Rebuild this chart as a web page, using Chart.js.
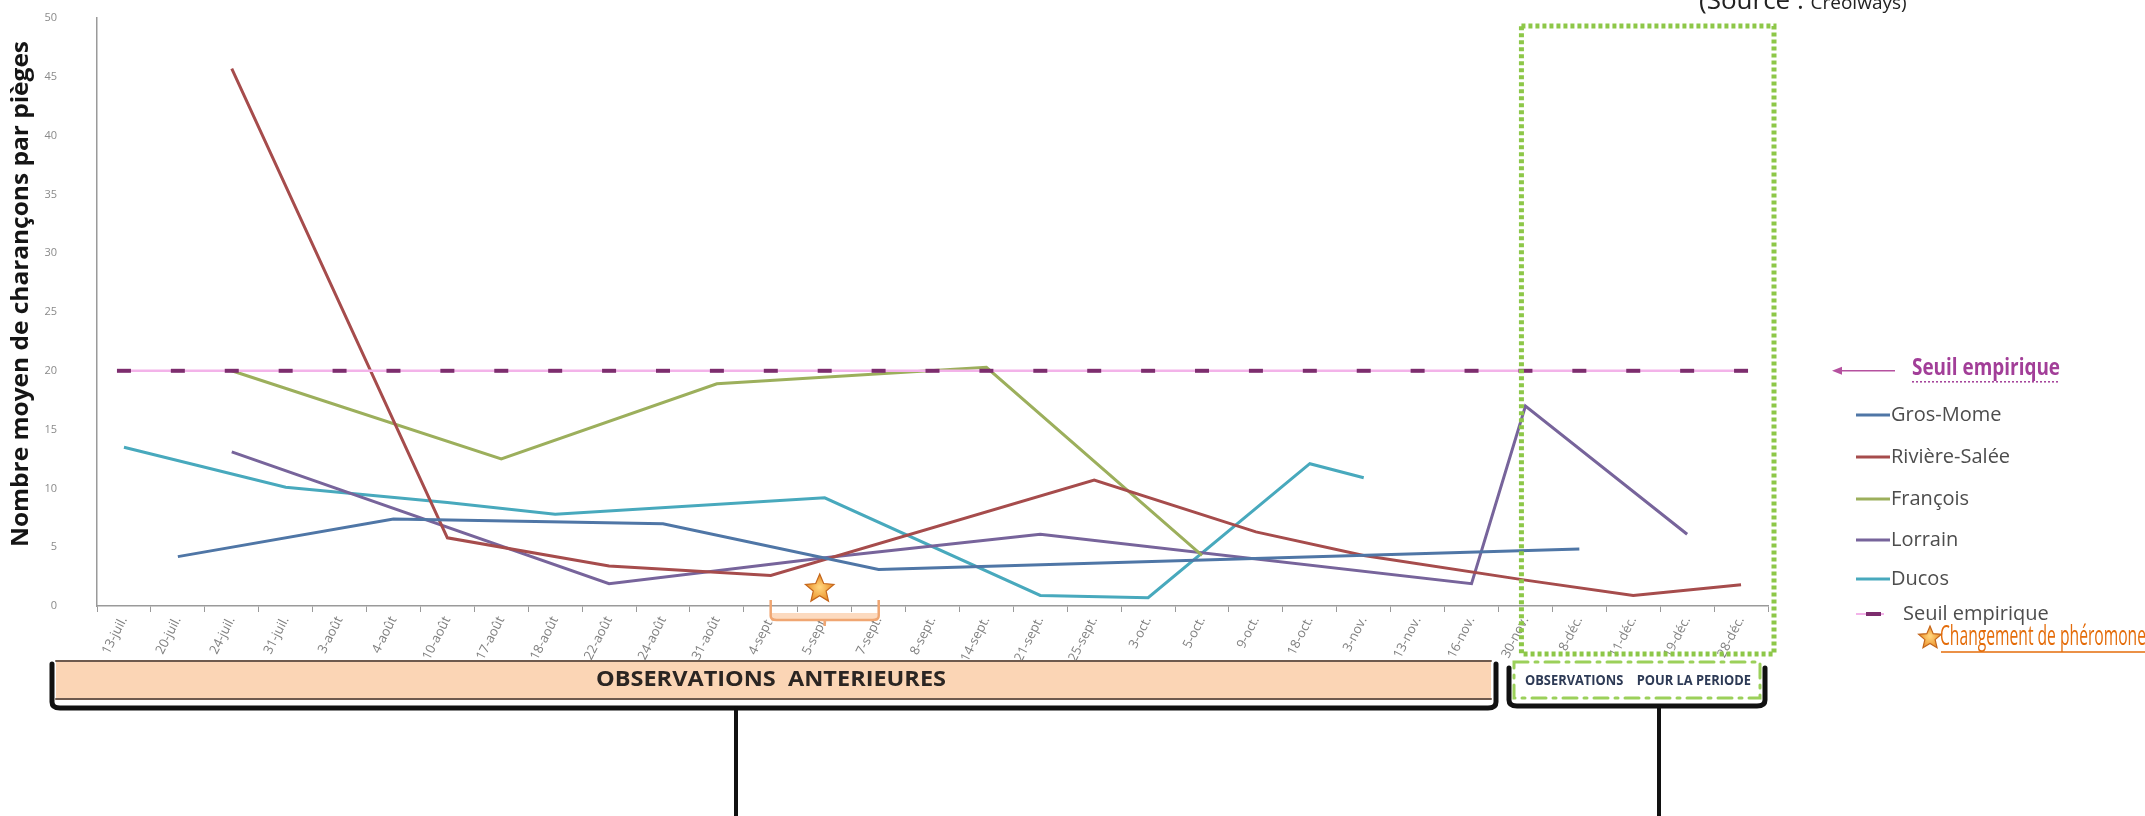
<!DOCTYPE html>
<html lang="fr">
<head>
    <meta charset="UTF-8">
    <title>Nombre moyen de charançons par pièges</title>
    <style>
        body {
            margin: 0;
            background-color: #fff;
        }
        canvas {
            display: block;
        }
    </style>
    <script src="https://cdn.jsdelivr.net/npm/chart.js"></script>
</head>
<body>
    <canvas id="trapChart" width="2145" height="816"></canvas>

    <script>
        const categories = ['13-juil.', '20-juil.', '24-juil.', '31-juil.', '3-août', '4-août', '10-août', '17-août',
            '18-août', '22-août', '24-août', '31-août', '4-sept.', '5-sept.', '7-sept.', '8-sept.', '14-sept.',
            '21-sept.', '25-sept.', '3-oct.', '5-oct.', '9-oct.', '18-oct.', '3-nov.', '13-nov.', '16-nov.',
            '30-nov.', '8-déc.', '11-déc.', '19-déc.', '28-déc.'];

        // missing readings are null, the lines are joined over them (spanGaps)
        const grosMorne = [null, 4.2, null, null, null, 7.4, null, null, null, null, 7.0, null, null, null, 3.1, null,
            null, null, null, null, null, null, null, null, null, null, null, 4.85, null, null, null];
        const riviereSalee = [null, null, 45.7, null, null, null, 5.8, null, null, 3.4, null, null, 2.6, null, null, null,
            null, null, 10.7, null, null, 6.3, null, 4.3, null, null, 2.2, null, 0.9, null, 1.8];
        const francois = [null, null, 20.0, null, null, null, null, 12.5, null, null, null, 18.9, null, null, null, null,
            20.3, null, null, null, 4.3, null, null, null, null, null, null, null, null, null, null];
        const lorrain = [null, null, 13.1, null, null, null, null, null, null, 1.9, null, null, null, 4.1, null, null,
            null, 6.1, null, null, null, null, null, null, null, 1.9, 17.0, null, null, 6.1, null];
        const ducos = [13.5, null, null, 10.1, null, null, 8.8, null, 7.8, null, null, null, null, 9.2, null, null,
            null, 0.9, null, 0.7, null, null, 12.1, 10.9, null, null, null, null, null, null, null];
        const seuil = [20, 20, 20, 20, 20, 20, 20, 20, 20, 20, 20, 20, 20, 20, 20, 20,
            20, 20, 20, 20, 20, 20, 20, 20, 20, 20, 20, 20, 20, 20, 20];

        const yTicks = [0, 5, 10, 15, 20, 25, 30, 35, 40, 45, 50];
        const starIndex = 13;      // 5-sept. : changement de phéromone
        const periodStart = 26;    // 30-nov. : début de la période observée

        function drawStar(ctx, cx, cy, r) {
            ctx.beginPath();
            for (let i = 0; i < 10; i++) {
                const rr = i % 2 === 0 ? r : r * 0.45;
                const a = -Math.PI / 2 + i * Math.PI / 5;
                ctx.lineTo(cx + rr * Math.cos(a), cy + rr * Math.sin(a));
            }
            ctx.closePath();
            const g = ctx.createRadialGradient(cx, cy - 2, 1, cx, cy, r);
            g.addColorStop(0, '#ffd27a');
            g.addColorStop(1, '#e8891e');
            ctx.fillStyle = g;
            ctx.fill();
            ctx.strokeStyle = '#c4661c';
            ctx.lineWidth = 1.2;
            ctx.stroke();
        }

        // draws text squeezed or stretched to a given width
        function fitText(ctx, text, cx, cy, w) {
            const m = ctx.measureText(text).width;
            ctx.save();
            ctx.translate(cx, cy);
            ctx.scale(w / m, 1);
            ctx.textAlign = 'center';
            ctx.textBaseline = 'middle';
            ctx.fillText(text, 0, 0);
            ctx.restore();
        }

        function brace(ctx, left, right, top, bottom, tipX) {
            ctx.strokeStyle = '#111';
            ctx.lineWidth = 5;
            ctx.lineCap = 'round';
            ctx.beginPath();
            ctx.moveTo(left, top);
            ctx.lineTo(left, bottom - 6);
            ctx.quadraticCurveTo(left, bottom, left + 8, bottom);
            ctx.lineTo(right - 8, bottom);
            ctx.quadraticCurveTo(right, bottom, right, bottom - 6);
            ctx.lineTo(right, top);
            ctx.stroke();
            ctx.beginPath();
            ctx.moveTo(tipX, bottom);
            ctx.lineTo(tipX, 816);
            ctx.lineWidth = 4;
            ctx.stroke();
        }

        const decorPlugin = {
            id: 'decor',
            afterDraw(chart) {
                const ctx = chart.ctx;
                const area = chart.chartArea;
                const x = chart.scales.x;
                const y = chart.scales.y;
                const seuilY = y.getPixelForValue(20);
                ctx.save();

                // y axis title
                ctx.save();
                ctx.translate(21, 294);
                ctx.rotate(-Math.PI / 2);
                ctx.fillStyle = '#151515';
                ctx.font = 'bold 24px "Open Sans", sans-serif';
                fitText(ctx, 'Nombre moyen de charançons par pièges', 0, 0, 506);
                ctx.restore();

                // green dotted frame round the current period
                const gx = x.getPixelForValue(periodStart) - 4;
                ctx.strokeStyle = '#8dc748';
                ctx.lineWidth = 5;
                ctx.setLineDash([4, 3]);
                ctx.strokeRect(gx, 26, area.right + 6 - gx, 654 - 26);
                ctx.setLineDash([]);

                // star and orange bracket at the pheromone change
                const sx = x.getPixelForValue(starIndex);
                ctx.fillStyle = 'rgba(251, 212, 180, 0.85)';
                ctx.fillRect(sx - 53, 613, 106, 8);
                ctx.strokeStyle = '#f0a672';
                ctx.lineWidth = 2.5;
                ctx.beginPath();
                ctx.moveTo(sx - 54, 600);
                ctx.lineTo(sx - 54, 616);
                ctx.quadraticCurveTo(sx - 54, 620, sx - 48, 620);
                ctx.lineTo(sx + 48, 620);
                ctx.quadraticCurveTo(sx + 54, 620, sx + 54, 616);
                ctx.lineTo(sx + 54, 600);
                ctx.moveTo(sx, 620);
                ctx.lineTo(sx, 626);
                ctx.stroke();
                drawStar(ctx, sx - 5, 589, 15);

                // arrow and heading for the threshold
                ctx.strokeStyle = '#b5519f';
                ctx.fillStyle = '#b5519f';
                ctx.lineWidth = 1.5;
                ctx.beginPath();
                ctx.moveTo(1895, seuilY);
                ctx.lineTo(1840, seuilY);
                ctx.stroke();
                ctx.beginPath();
                ctx.moveTo(1832, seuilY);
                ctx.lineTo(1842, seuilY - 4);
                ctx.lineTo(1842, seuilY + 4);
                ctx.closePath();
                ctx.fill();

                ctx.fillStyle = '#a23e98';
                ctx.font = 'bold 23px "Liberation Sans Narrow", "Open Sans", sans-serif';
                fitText(ctx, 'Seuil empirique', 1986, seuilY - 2, 148);
                ctx.strokeStyle = '#a23e98';
                ctx.lineWidth = 1.5;
                ctx.setLineDash([2, 2]);
                ctx.beginPath();
                ctx.moveTo(1912, seuilY + 11);
                ctx.lineTo(2060, seuilY + 11);
                ctx.stroke();
                ctx.setLineDash([]);

                // legend
                const rows = [415, 457, 499, 540, 579, 614];
                ctx.font = '20px "Open Sans", sans-serif';
                ctx.textAlign = 'left';
                ctx.textBaseline = 'middle';
                chart.data.datasets.forEach((ds, i) => {
                    const ry = rows[i];
                    let tx = 1891;
                    if (ds.label === 'Seuil empirique') {
                        ctx.strokeStyle = ds.borderColor;
                        ctx.lineWidth = 2;
                        ctx.beginPath();
                        ctx.moveTo(1856, ry);
                        ctx.lineTo(1884, ry);
                        ctx.stroke();
                        ctx.strokeStyle = ds.pointBorderColor;
                        ctx.lineWidth = 4;
                        ctx.beginPath();
                        ctx.moveTo(1866, ry);
                        ctx.lineTo(1881, ry);
                        ctx.stroke();
                        tx = 1903;
                    } else {
                        ctx.strokeStyle = ds.borderColor;
                        ctx.lineWidth = 3;
                        ctx.beginPath();
                        ctx.moveTo(1856, ry);
                        ctx.lineTo(1890, ry);
                        ctx.stroke();
                    }
                    ctx.fillStyle = '#4d4d4d';
                    ctx.fillText(ds.label, tx, ry);
                });

                // pheromone note
                drawStar(ctx, 1930, 638, 12);
                ctx.fillStyle = '#e46c0a';
                ctx.font = '27px "Liberation Sans Narrow", "Open Sans", sans-serif';
                fitText(ctx, 'Changement de phéromone', 2043, 637, 206);
                ctx.strokeStyle = '#e46c0a';
                ctx.lineWidth = 1.5;
                ctx.beginPath();
                ctx.moveTo(1941, 652);
                ctx.lineTo(2145, 652);
                ctx.stroke();

                // earlier observations
                brace(ctx, 52, 1496, 664, 708, 736);
                ctx.fillStyle = '#fbd5b5';
                ctx.fillRect(56, 661, 1435, 38);
                ctx.strokeStyle = '#6d5a4e';
                ctx.lineWidth = 2;
                ctx.beginPath();
                ctx.moveTo(56, 661);
                ctx.lineTo(1491, 661);
                ctx.moveTo(56, 699);
                ctx.lineTo(1491, 699);
                ctx.stroke();
                ctx.fillStyle = '#2b2522';
                ctx.font = 'bold 22px "Liberation Sans Narrow", "Open Sans", sans-serif';
                fitText(ctx, 'OBSERVATIONS  ANTERIEURES', 771, 680, 350);

                // observations for the period
                brace(ctx, 1509, 1765, 668, 706, 1659);
                ctx.fillStyle = '#fff';
                ctx.fillRect(1514, 662, 246, 36);
                ctx.strokeStyle = '#9bd05a';
                ctx.lineWidth = 3;
                ctx.setLineDash([14, 7, 3, 7]);
                ctx.strokeRect(1514, 662, 246, 36);
                ctx.setLineDash([]);
                ctx.fillStyle = '#2d3a55';
                ctx.font = 'bold 15px "Liberation Sans Narrow", "Open Sans", sans-serif';
                fitText(ctx, 'OBSERVATIONS    POUR LA PERIODE', 1638, 681, 226);

                // source, cut at the top edge
                ctx.fillStyle = '#222';
                ctx.textAlign = 'left';
                ctx.textBaseline = 'alphabetic';
                ctx.font = '26px "Open Sans", sans-serif';
                ctx.fillText('(Source : ', 1699, 9);
                const w = ctx.measureText('(Source : ').width;
                ctx.font = '19px "Open Sans", sans-serif';
                ctx.fillText('Creolways)', 1699 + w, 9);

                ctx.restore();
            }
        };

        const lineStyle = {
            borderWidth: 3,
            pointRadius: 0,
            spanGaps: true,
            tension: 0,
            order: 1
        };

        new Chart(document.getElementById('trapChart'), {
            type: 'line',
            data: {
                labels: categories,
                datasets: [
                    Object.assign({label: 'Gros-Mome', data: grosMorne, borderColor: '#4f76a6'}, lineStyle),
                    Object.assign({label: 'Rivière-Salée', data: riviereSalee, borderColor: '#a64c4c'}, lineStyle),
                    Object.assign({label: 'François', data: francois, borderColor: '#9caf5c'}, lineStyle),
                    Object.assign({label: 'Lorrain', data: lorrain, borderColor: '#77649b'}, lineStyle),
                    Object.assign({label: 'Ducos', data: ducos, borderColor: '#48a9bd'}, lineStyle),
                    {
                        label: 'Seuil empirique',
                        data: seuil,
                        borderColor: '#f3b3e9',
                        borderWidth: 2.5,
                        pointStyle: 'line',
                        pointRadius: 7,
                        pointBorderWidth: 4,
                        pointBorderColor: '#7d2d6e',
                        pointBackgroundColor: '#7d2d6e',
                        order: 0
                    }
                ]
            },
            options: {
                responsive: false,
                devicePixelRatio: 1,
                animation: false,
                layout: {
                    padding: {left: 0, top: 18, right: 377, bottom: 0}
                },
                plugins: {
                    legend: {display: false},
                    tooltip: {enabled: false}
                },
                scales: {
                    x: {
                        offset: true,
                        afterFit: (scale) => { scale.height = 210; },
                        grid: {
                            offset: true,
                            drawOnChartArea: false,
                            tickLength: 6,
                            color: '#9a9a9a'
                        },
                        border: {color: '#9a9a9a', width: 1.5},
                        ticks: {
                            autoSkip: false,
                            minRotation: 63,
                            maxRotation: 63,
                            padding: 2,
                            color: '#7f7f7f',
                            font: {family: '"Open Sans", sans-serif', size: 13}
                        }
                    },
                    y: {
                        min: 0,
                        max: 50,
                        afterFit: (scale) => { scale.width = 97; },
                        afterBuildTicks: (scale) => { scale.ticks = yTicks.map(v => ({value: v})); },
                        // hidden tick marks, only used to push the labels away from the axis
                        grid: {display: false, drawTicks: true, tickLength: 38},
                        border: {color: '#9a9a9a', width: 1.5},
                        ticks: {
                            padding: 2,
                            color: '#8a8a8a',
                            font: {family: '"Open Sans", sans-serif', size: 11}
                        }
                    }
                }
            },
            plugins: [decorPlugin]
        });
    </script>
</body>
</html>
